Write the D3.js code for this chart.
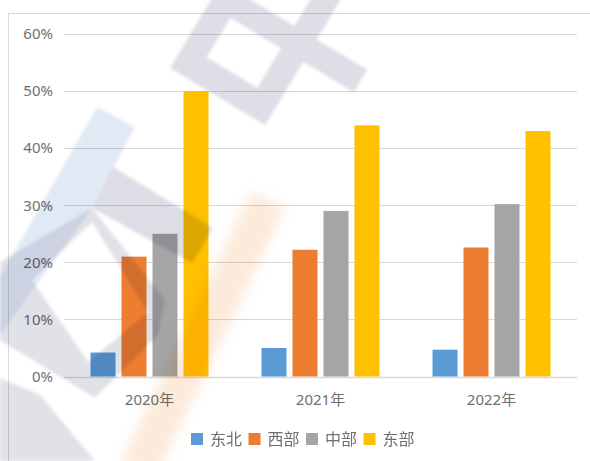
<!DOCTYPE html>
<html>
<head>
<meta charset="utf-8">
<script src="https://cdn.jsdelivr.net/npm/d3@7"></script>
<style>
  body { margin: 0; background: #fff; }
  svg { display: block; font-family: "Noto Sans", "Noto Sans CJK SC", sans-serif; }
</style>
</head>
<body>
<svg id="chart" width="590" height="461"></svg>
<script>
const years = ["2020年", "2021年", "2022年"];
const regions = ["东北", "西部", "中部", "东部"];
const colors = ["#5B9BD5", "#ED7D31", "#A5A5A5", "#FFC000"];
// share per region, one list per year
const v2020 = [0.042, 0.21, 0.25, 0.50];
const v2021 = [0.050, 0.222, 0.29, 0.44];
const v2022 = [0.047, 0.226, 0.302, 0.43];
const yTicks = [0, 0.1, 0.2, 0.3, 0.4, 0.5, 0.6];

const rows = [v2020, v2021, v2022].map((vals, i) => ({
  year: years[i],
  values: vals.map((v, j) => ({ key: regions[j], value: v }))
}));

const svg = d3.select("#chart");
const plotLeft = 64, plotRight = 577, plotTop = 34, plotBottom = 376.5;

const defs = svg.append("defs");
defs.append("filter").attr("id", "soft")
  .append("feGaussianBlur").attr("stdDeviation", 1.8);
defs.append("filter").attr("id", "softer")
  .attr("x", "-50%").attr("y", "-50%").attr("width", "200%").attr("height", "200%")
  .append("feGaussianBlur").attr("stdDeviation", 6);

// chart frame
svg.append("path")
  .attr("d", "M8.5,461 V13.5 H590")
  .attr("fill", "none")
  .attr("stroke", "#d9d9d9");

const x0 = d3.scaleBand().domain(years).range([plotLeft, plotRight]);
const x1 = d3.scaleBand().domain(regions)
  .range([0, x0.bandwidth()])
  .paddingInner(0.1935)
  .paddingOuter(0.855);
const y = d3.scaleLinear().domain([0, 0.6]).range([plotBottom, plotTop]);
const color = d3.scaleOrdinal().domain(regions).range(colors);

// gridlines
svg.append("g")
  .selectAll("line")
  .data(yTicks)
  .join("line")
  .attr("x1", plotLeft)
  .attr("x2", plotRight)
  .attr("y1", (d) => Math.round(y(d)) + 0.5)
  .attr("y2", (d) => Math.round(y(d)) + 0.5)
  .attr("stroke", "#d9d9d9")
  .attr("stroke-width", (d) => (d === 0 ? 1.5 : 1));

// y labels
svg.append("g")
  .selectAll("text")
  .data(yTicks)
  .join("text")
  .attr("x", 53)
  .attr("y", (d) => y(d))
  .attr("dy", "0.35em")
  .attr("text-anchor", "end")
  .attr("font-size", 15)
  .attr("fill", "#6f6f6f")
  .text(d3.format(".0%"));

// bars
const groups = svg.append("g")
  .selectAll("g")
  .data(rows)
  .join("g")
  .attr("transform", (d) => `translate(${x0(d.year)},0)`);

groups.selectAll("rect")
  .data((d) => d.values)
  .join("rect")
  .attr("x", (d) => x1(d.key))
  .attr("width", x1.bandwidth())
  .attr("y", (d) => y(d.value))
  .attr("height", (d) => y(0) - y(d.value))
  .attr("fill", (d) => color(d.key));

// x labels
svg.append("g")
  .selectAll("text")
  .data(years)
  .join("text")
  .attr("x", (d) => x0(d) + x0.bandwidth() / 2)
  .attr("y", 405)
  .attr("text-anchor", "middle")
  .attr("font-size", 15)
  .attr("fill", "#6f6f6f")
  .text((d) => d);

// faint background picture laid over the plot (multiply, like a watermark)
const deco = svg.append("g")
  .style("mix-blend-mode", "multiply")
  .attr("pointer-events", "none");

// grey lattice at the top
deco.append("g")
  .attr("transform", "translate(170,68) rotate(31)")
  .append("path")
  .attr("d", "M0,-170 H111 V-100 H170 V-74 H111 V0 H0 Z" +
             "M26,-74 H85 V-28 H26 Z M26,-146 H85 V-100 H26 Z")
  .attr("fill-rule", "evenodd")
  .attr("fill", "#9a9ab4")
  .attr("fill-opacity", 0.33)
  .attr("filter", "url(#soft)");

// bluish column on the left
deco.append("path")
  .attr("d", "M97,107 L135,127 L92,208 L0,335 L0,277 Z")
  .attr("fill", "#8fb0d8")
  .attr("fill-opacity", 0.27)
  .attr("filter", "url(#soft)");

// grey cross bar and ring below it
deco.append("path")
  .attr("d", "M113,167 L213,228 L192,263 L92,208 Z")
  .attr("fill", "#9a9ab4")
  .attr("fill-opacity", 0.34)
  .attr("filter", "url(#soft)");

deco.append("path")
  .attr("d", "M0,262 L92,208 L165,300 L158,335 L95,398 L0,340 Z" +
             "M32,280 L92,222 L148,312 L88,362 Z")
  .attr("fill-rule", "evenodd")
  .attr("fill", "#9a9ab4")
  .attr("fill-opacity", 0.3)
  .attr("filter", "url(#soft)");

deco.append("path")
  .attr("d", "M0,378 L40,395 L95,461 L0,461 Z")
  .attr("fill", "#9a9ab4")
  .attr("fill-opacity", 0.3)
  .attr("filter", "url(#soft)");

// peach streak
deco.append("line")
  .attr("x1", 268).attr("y1", 200)
  .attr("x2", 138).attr("y2", 470)
  .attr("stroke", "#f0a060")
  .attr("stroke-opacity", 0.22)
  .attr("stroke-width", 38)
  .attr("filter", "url(#softer)");

// legend
const legend = svg.append("g")
  .selectAll("g")
  .data(regions)
  .join("g")
  .attr("transform", (d, i) => `translate(${191 + i * 57.5},433)`);

legend.append("rect")
  .attr("width", 12)
  .attr("height", 12)
  .attr("fill", (d) => color(d));

legend.append("text")
  .attr("x", 19)
  .attr("y", 6)
  .attr("dy", "0.36em")
  .attr("font-size", 16)
  .attr("fill", "#6f6f6f")
  .text((d) => d);
</script>
</body>
</html>
